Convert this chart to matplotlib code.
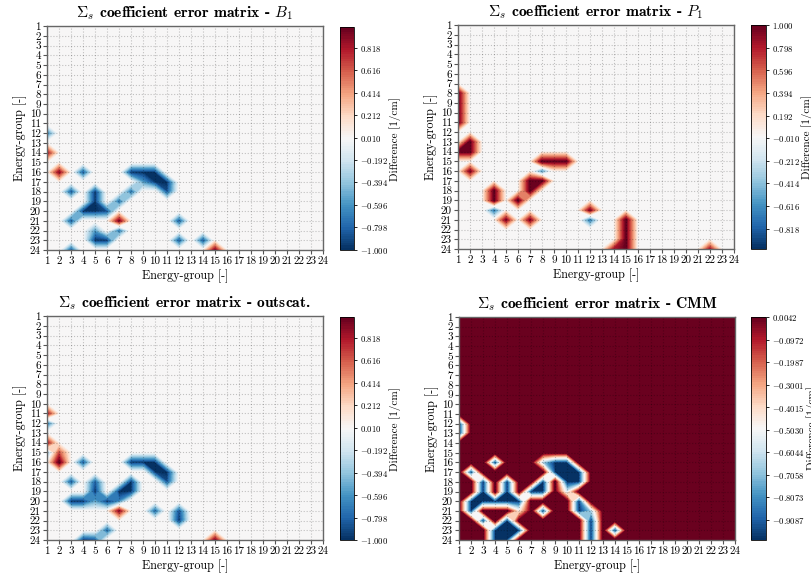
import numpy as np
import matplotlib
matplotlib.use("Agg")
import matplotlib.pyplot as plt

plt.rcParams['font.family'] = 'serif'
plt.rcParams['font.serif'] = ['cmr10']
plt.rcParams['mathtext.fontset'] = 'cm'
plt.rcParams['axes.formatter.use_mathtext'] = True

groups = list(range(1, 25))
tick_labels = [str(g) for g in groups]

# ---- B1 panel: (column group, row group, value) ----
b1_cols = [1, 1, 2, 4, 3, 8, 9, 10, 10, 11, 11, 9, 8, 7, 5, 5, 4, 5, 6, 3, 7, 5, 5, 6, 7, 3, 12, 12, 14, 15]
b1_rows = [12, 14, 16, 16, 18, 16, 16, 16, 17, 17, 18, 17, 18, 19, 18, 19, 20, 20, 20, 21, 21, 22, 23, 23, 22, 24, 21, 23, 23, 24]
b1_vals = [-0.75, 0.8, 0.85, -0.9, -0.9, -1, -1, -1, -1, -1, -0.9, -0.6, -0.8, -0.8, -1, -1, -1, -1, -0.9, -0.9,
           0.9, -0.6, -1, -1, -0.8, -0.9, -0.9, -0.9, -0.9, 0.9]

# ---- P1 panel ----
p1_cols = [1, 1, 1, 1, 1, 2, 2, 2, 8, 9, 10, 8, 7, 8, 7, 6, 4, 4, 4, 5, 7, 12, 12, 15, 15, 15, 15, 14, 22]
p1_rows = [8, 9, 10, 11, 14, 14, 13, 16, 15, 15, 15, 16, 17, 17, 18, 19, 18, 19, 20, 21, 21, 20, 21, 21, 22, 23, 24, 24, 24]
p1_vals = [1, 1, 1, 1, 1, 1, 1, 0.9, 1, 1, 1, -0.7, 1, 1, 1, 1, 1, 1, -0.8, 0.9, 0.9, 0.9, -0.8, 1, 1, 1, 1, 0.8, 0.8]

# ---- outscatter panel ----
os_cols = [1, 1, 1, 1, 2, 2, 4, 8, 9, 10, 10, 11, 11, 3, 5, 5, 3, 4, 5, 6, 7, 7, 8, 8, 7, 10, 12, 12, 6, 4, 5, 15]
os_rows = [11, 12, 14, 15, 15, 16, 16, 16, 16, 16, 17, 17, 18, 18, 18, 19, 20, 20, 20, 20, 20, 19, 19, 18, 21, 21, 21, 22, 23, 24, 24, 24]
os_vals = [0.8, -0.8, 0.8, -0.5, 0.6, 1, -0.9, -1, -1, -1, -1, -1, -0.9, -0.9, -0.85, -1, -1, -1, -0.55, -1, -0.7,
           -1, -1, -1, 0.85, -0.85, -0.9, -1, -0.85, -1, -0.9, 0.9]

# ---- CMM panel ----
cm_cols = [1, 1, 4, 2, 3, 3, 3, 2, 2, 4, 5, 5, 5, 6, 6, 3, 5, 4, 5, 6, 4, 5, 7, 8, 8,
           8, 9, 10, 9, 10, 11, 10, 11, 10, 11, 11, 12, 12, 12, 12, 8, 14]
cm_rows = [12, 13, 16, 17, 18, 19, 20, 20, 21, 20, 18, 19, 20, 20, 21, 22, 22, 23, 23, 23, 24, 24, 19, 18, 19,
           16, 16, 16, 17, 17, 17, 18, 18, 19, 20, 21, 21, 22, 23, 24, 21, 23]
cm_vals = [-1, -1, -1, -1, -1, -1, -1, -1, -1, -1, -1, -1, -1, -1, -0.5, -1, -1, -1, -1, -1, -1, -1, -1, -1, -1,
           -0.7, -1, -1, -1, -1, -1, -1, -1, -0.6, -1, -1, -0.7, -1, -1, -1, -1, -1]

b1_ticks = [-1.000, -0.798, -0.596, -0.394, -0.192, 0.010, 0.212, 0.414, 0.616, 0.818]
p1_ticks = [1.000, 0.798, 0.596, 0.394, 0.192, -0.010, -0.212, -0.414, -0.616, -0.818]
os_ticks = [-1.000, -0.798, -0.596, -0.394, -0.192, 0.010, 0.212, 0.414, 0.616, 0.818]
cm_ticks = [0.0042, -0.0972, -0.1987, -0.3001, -0.4015, -0.5030, -0.6044, -0.7058, -0.8073, -0.9087]

panels = [
    dict(title=r"$\Sigma_s$ coefficient error matrix - $B_1$", cols=b1_cols, rows=b1_rows, vals=b1_vals,
         vmin=-1.0, vmax=1.0, ticks=b1_ticks, fmt="{:.3f}",
         ax=[0.058, 0.5645, 0.340, 0.390], cax=[0.4192, 0.5645, 0.0175, 0.388]),
    dict(title=r"$\Sigma_s$ coefficient error matrix - $P_1$", cols=p1_cols, rows=p1_rows, vals=p1_vals,
         vmin=-1.0, vmax=1.0, ticks=p1_ticks, fmt="{:.3f}",
         ax=[0.5647, 0.5662, 0.340, 0.390], cax=[0.926, 0.5662, 0.0185, 0.390]),
    dict(title=r"$\Sigma_s$ coefficient error matrix - outscat.", cols=os_cols, rows=os_rows, vals=os_vals,
         vmin=-1.0, vmax=1.0, ticks=os_ticks, fmt="{:.3f}",
         ax=[0.058, 0.0592, 0.340, 0.390], cax=[0.4192, 0.0592, 0.0175, 0.388]),
    dict(title=r"$\Sigma_s$ coefficient error matrix - CMM", cols=cm_cols, rows=cm_rows, vals=cm_vals,
         vmin=-1.0, vmax=0.0042, ticks=cm_ticks, fmt="{:.4f}",
         ax=[0.566, 0.0592, 0.340, 0.3885], cax=[0.926, 0.0592, 0.0185, 0.3885]),
]

fig = plt.figure(figsize=(8.11, 5.74), dpi=100)
X, Y = np.meshgrid(groups, groups)

for p in panels:
    Z = np.zeros((len(groups), len(groups)))
    for c, r, v in zip(p["cols"], p["rows"], p["vals"]):
        Z[r - 1, c - 1] = v
    ax = fig.add_axes(p["ax"])
    levels = np.linspace(p["vmin"], p["vmax"], 100)
    cs = ax.contourf(X, Y, Z, levels=levels, cmap="RdBu_r")
    ax.set_xlim(1, 24)
    ax.set_ylim(24, 1)
    ax.set_xticks(groups)
    ax.set_yticks(groups)
    ax.set_xticklabels(tick_labels, fontsize=8)
    ax.set_yticklabels(tick_labels, fontsize=8)
    ax.tick_params(length=3, width=0.8, pad=1.5, color="#555555")
    ax.grid(True, color="k", alpha=0.22, linestyle=":", linewidth=0.8)
    for s in ax.spines.values():
        s.set_color("#666666")
        s.set_linewidth(1.0)
    ax.set_xlabel("Energy-group [-]", fontsize=8.7, labelpad=3)
    ax.set_ylabel("Energy-group [-]", fontsize=8.7, labelpad=2)
    ax.set_title(p["title"], fontsize=11.2, fontfamily="cmb10", pad=6)

    cax = fig.add_axes(p["cax"])
    cb = fig.colorbar(cs, cax=cax, ticks=p["ticks"])
    cb.ax.set_yticklabels(["$" + p["fmt"].format(t) + "$" for t in p["ticks"]], fontsize=6.3)
    cb.ax.tick_params(length=2.5, width=0.6, pad=2)
    cb.outline.set_linewidth(0.6)
    cb.set_label("Difference [1/cm]", fontsize=8, labelpad=0.5)

fig.savefig("out.png", dpi=100)
